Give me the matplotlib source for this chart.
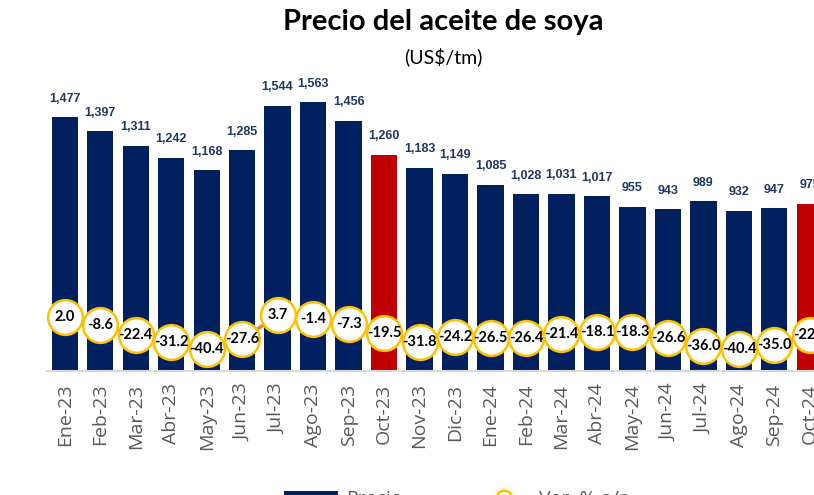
import matplotlib
matplotlib.use("Agg")
import matplotlib.pyplot as plt
import numpy as np

# data
meses = ["Ene-23", "Feb-23", "Mar-23", "Abr-23", "May-23", "Jun-23", "Jul-23",
         "Ago-23", "Sep-23", "Oct-23", "Nov-23", "Dic-23", "Ene-24", "Feb-24",
         "Mar-24", "Abr-24", "May-24", "Jun-24", "Jul-24", "Ago-24", "Sep-24",
         "Oct-24"]
precio = [1477, 1397, 1311, 1242, 1168, 1285, 1544, 1563, 1456, 1260, 1183,
          1149, 1085, 1028, 1031, 1017, 955, 943, 989, 932, 947, 975]
var_aa = [2.0, -8.6, -22.4, -31.2, -40.4, -27.6, 3.7, -1.4, -7.3, -19.5, -31.8,
          -24.2, -26.5, -26.4, -21.4, -18.1, -18.3, -26.6, -36.0, -40.4, -35.0,
          -22.5]
resaltados = ["Oct-23", "Oct-24"]

AZUL = "#002060"
ROJO = "#C00000"
NARANJA = "#ED7D31"
AMARILLO = "#FFC000"

fig = plt.figure(figsize=(8.14, 4.95), dpi=100)
ax = fig.add_axes([0.0577, 0.2505, 0.959, 0.59])
x = np.arange(len(meses))
colores = [ROJO if m in resaltados else AZUL for m in meses]
ax.bar(x, precio, width=0.74, color=colores, zorder=2, label="Precio")
ax.set_xlim(-0.5, len(meses) - 0.5)
ax.set_ylim(0, 1700)

for xi, v in zip(x, precio):
    ax.annotate(f"{v:,}", (xi, v), xytext=(0, 9), textcoords="offset points",
                ha="center", va="bottom", fontsize=9, fontweight="bold",
                color="#1F3864", family="Liberation Sans")

ax.set_xticks(x)
ax.set_xticklabels(meses, rotation=90, fontsize=14, color="#595959",
                   family="Open Sans")
ax.tick_params(axis="x", length=0, pad=9)
ax.set_yticks([])
for s in ["left", "right", "top"]:
    ax.spines[s].set_visible(False)
ax.spines["bottom"].set_color("#D9D9D9")
ax.spines["bottom"].set_linewidth(1.5)
ax.spines["bottom"].set_zorder(3)

ax2 = ax.twinx()
ax2.set_ylim(-69.3, 313.9)
ax2.plot(x, var_aa, color=NARANJA, lw=2.5, marker="o", markersize=25,
         markerfacecolor="white", markeredgecolor=AMARILLO,
         markeredgewidth=1.8, zorder=3, label="Var. % a/a")
for xi, v in zip(x, var_aa):
    ax2.text(xi, v, f"{v:.1f}", ha="center", va="center", fontsize=10.5,
             fontweight="bold", color="black", family="Lato", zorder=4)
ax2.set_yticks([])
for s in ["left", "right", "top", "bottom"]:
    ax2.spines[s].set_visible(False)

fig.text(0.545, 0.955, "Precio del aceite de soya", ha="center", va="center",
         fontsize=21, fontweight="bold", family="Lato")
fig.text(0.545, 0.885, "(US$/tm)", ha="center", va="center", fontsize=14,
         family="Lato")

h1, l1 = ax.get_legend_handles_labels()
h2, l2 = ax2.get_legend_handles_labels()
leg = fig.legend(h1 + h2, l1 + l2, loc="center",
                 bbox_to_anchor=(0.561, -0.009), ncol=2, frameon=False,
                 fontsize=14, handlelength=2.8, handletextpad=0.4,
                 columnspacing=3.8, markerscale=0.45)
for t in leg.get_texts():
    t.set_color("#595959")
    t.set_family("Open Sans")

fig.savefig("out.png", dpi=100)
